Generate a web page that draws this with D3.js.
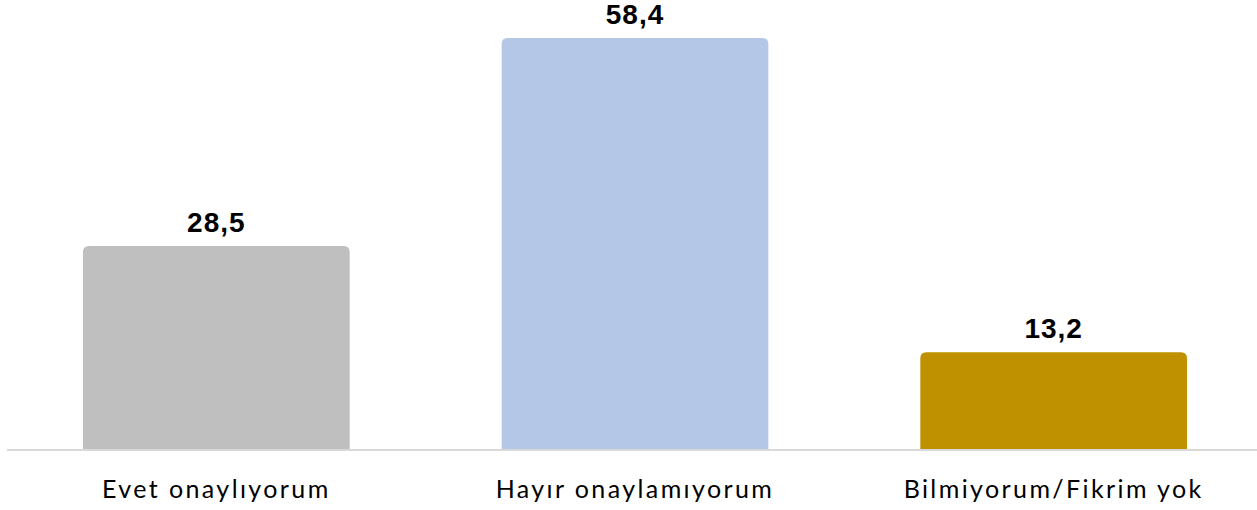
<!DOCTYPE html>
<html>
<head>
<meta charset="utf-8">
<script src="https://cdn.jsdelivr.net/npm/d3@7"></script>
<style>
  body { margin: 0; background: #fff; }
  svg { display: block; }
</style>
</head>
<body>
<svg class="chart"></svg>
<script>
// values
var categories = ["Evet onaylıyorum", "Hayır onaylamıyorum", "Bilmiyorum/Fikrim yok"];
var values = [28.5, 58.4, 13.2];
var valueLabels = ["28,5", "58,4", "13,2"];
var colors = ["#bfbfbf", "#b4c7e7", "#bf9000"];

var width = 1257, height = 510;
var baseline = 449;

var chart = d3.select(".chart")
  .attr("width", width)
  .attr("height", height);

var x = d3.scaleBand()
  .domain(categories)
  .range([7, 1263])
  .paddingInner(0.363)
  .paddingOuter(0.1815);

// zero sits a few px above the axis line in the original
var y = d3.scaleLinear()
  .domain([-0.7, 58.4])
  .range([baseline, 38]);

var data = categories.map(function(c, i) {
  return {cat: c, value: values[i], label: valueLabels[i], color: colors[i]};
});

function topRounded(x0, y0, w, h, r) {
  return "M" + x0 + "," + (y0 + h) +
    "V" + (y0 + r) +
    "Q" + x0 + "," + y0 + " " + (x0 + r) + "," + y0 +
    "H" + (x0 + w - r) +
    "Q" + (x0 + w) + "," + y0 + " " + (x0 + w) + "," + (y0 + r) +
    "V" + (y0 + h) + "Z";
}

chart.selectAll("path.bar")
  .data(data)
  .enter().append("path")
  .attr("class", "bar")
  .attr("fill", function(d) { return d.color; })
  .attr("d", function(d) {
    var top = y(d.value);
    return topRounded(x(d.cat), top, x.bandwidth(), baseline - top, 6);
  });

chart.selectAll("text.val")
  .data(data)
  .enter().append("text")
  .attr("class", "val")
  .attr("x", function(d) { return x(d.cat) + x.bandwidth() / 2; })
  .attr("y", function(d) { return y(d.value) - 14; })
  .attr("text-anchor", "middle")
  .style("font-family", "'Liberation Sans', Arial, sans-serif")
  .style("font-weight", "bold")
  .style("font-size", "28px")
  .style("letter-spacing", "1px")
  .attr("fill", "#000")
  .text(function(d) { return d.label; });

var xAxis = d3.axisBottom(x).tickSize(0).tickPadding(0);

chart.append("g")
  .attr("transform", "translate(0," + (baseline + 1) + ")")
  .call(customXAxis);

function customXAxis(g) {
  g.call(xAxis);
  g.select(".domain").remove();
  g.append("line")
    .attr("x1", 7).attr("x2", width)
    .attr("stroke", "#d9d9d9")
    .attr("stroke-width", 2);
  g.selectAll(".tick text")
    .attr("y", 48)
    .attr("dy", 0)
    .attr("fill", "#000")
    .style("font-family", "Lato, sans-serif")
    .style("font-size", "25px")
    .style("letter-spacing", "2.4px");
}
</script>
</body>
</html>
